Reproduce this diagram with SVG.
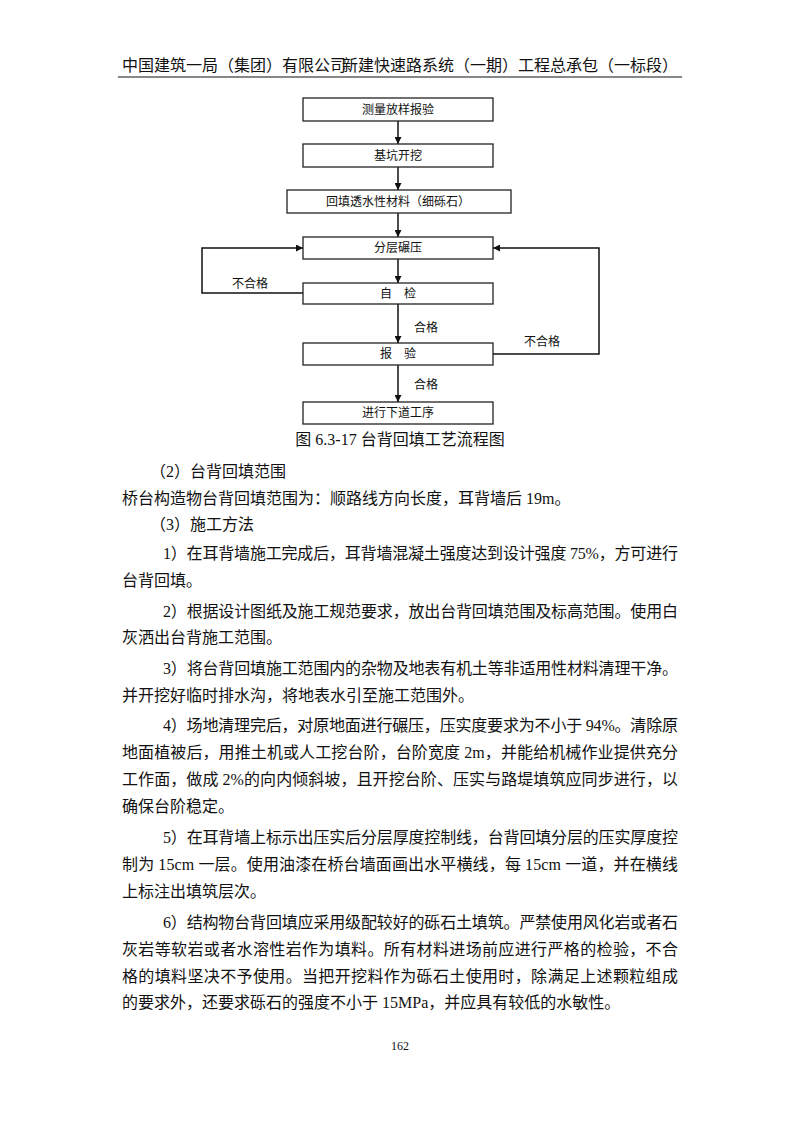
<svg xmlns="http://www.w3.org/2000/svg" width="800" height="1132" viewBox="0 0 800 1132">
<style>
.t{font-family:"Liberation Serif","Noto Sans CJK SC",serif;font-size:16px;fill:#111}
.b{fill:#fff;stroke:#222;stroke-width:1.3}
.n{font-family:"Noto Sans CJK SC",sans-serif;font-size:12px;fill:#111;text-anchor:middle}
.c{fill:none;stroke:#111;stroke-width:1.5}
</style>
<defs><marker id="a" viewBox="0 0 10 10" refX="10" refY="5" markerWidth="7" markerHeight="7" orient="auto" markerUnits="userSpaceOnUse"><path d="M0,0L10,5L0,10z" fill="#111"/></marker></defs>
<rect width="800" height="1132" fill="#fff"/>
<text class="t" x="122" y="71" font-size="15">中国建筑一局（集团）有限公司</text>
<text class="t" x="678" y="71" font-size="15" text-anchor="end">新建快速路系统（一期）工程总承包（一标段）</text>
<line x1="118" y1="77" x2="682" y2="77" stroke="#111" stroke-width="1.2"/>
<g id="connectors">
<line class="c" x1="398" y1="121" x2="398" y2="144" marker-end="url(#a)"/>
<line class="c" x1="398" y1="167" x2="398" y2="190" marker-end="url(#a)"/>
<line class="c" x1="398" y1="213" x2="398" y2="237" marker-end="url(#a)"/>
<line class="c" x1="398" y1="259" x2="398" y2="283" marker-end="url(#a)"/>
<line class="c" x1="398" y1="304" x2="398" y2="343" marker-end="url(#a)"/>
<line class="c" x1="398" y1="365" x2="398" y2="402" marker-end="url(#a)"/>
<polyline class="c" points="303,293 202,293 202,248 303,248" marker-end="url(#a)"/>
<polyline class="c" points="493,354 599,354 599,248 493,248" marker-end="url(#a)"/>
<text class="n" x="250" y="288">不合格</text>
<text class="n" x="426" y="332">合格</text>
<text class="n" x="542" y="346">不合格</text>
<text class="n" x="426" y="389">合格</text>
</g>
<g id="n1"><rect class="b" x="303" y="98" width="190" height="23"/><text class="n" x="398" y="114">测量放样报验</text></g>
<g id="n2"><rect class="b" x="303" y="144" width="190" height="23"/><text class="n" x="398" y="160">基坑开挖</text></g>
<g id="n3"><rect class="b" x="287" y="190" width="224" height="23"/><text class="n" x="398" y="206">回填透水性材料（细砾石）</text></g>
<g id="n4"><rect class="b" x="303" y="237" width="190" height="22"/><text class="n" x="398" y="252">分层碾压</text></g>
<g id="n5"><rect class="b" x="303" y="283" width="190" height="21"/><text class="n" x="398" y="298">自　检</text></g>
<g id="n6"><rect class="b" x="303" y="343" width="190" height="22"/><text class="n" x="398" y="358">报　验</text></g>
<g id="n7"><rect class="b" x="303" y="402" width="190" height="22"/><text class="n" x="398" y="417">进行下道工序</text></g>
<text class="t" x="400" y="445" font-size="14" text-anchor="middle">图 6.3-17 台背回填工艺流程图</text>
<g class="t">
<text x="150" y="477">（2）台背回填范围</text>
<text x="122" y="504">桥台构造物台背回填范围为：顺路线方向长度，耳背墙后 19m。</text>
<text x="150" y="530">（3）施工方法</text>
<text x="163" y="559" textLength="515" lengthAdjust="spacing">1）在耳背墙施工完成后，耳背墙混凝土强度达到设计强度 75%，方可进行</text>
<text x="122" y="586">台背回填。</text>
<text x="163" y="617" textLength="515" lengthAdjust="spacing">2）根据设计图纸及施工规范要求，放出台背回填范围及标高范围。使用白</text>
<text x="122" y="643">灰洒出台背施工范围。</text>
<text x="163" y="674" textLength="515" lengthAdjust="spacing">3）将台背回填施工范围内的杂物及地表有机土等非适用性材料清理干净。</text>
<text x="122" y="701">并开挖好临时排水沟，将地表水引至施工范围外。</text>
<text x="163" y="731" textLength="515" lengthAdjust="spacing">4）场地清理完后，对原地面进行碾压，压实度要求为不小于 94%。清除原</text>
<text x="122" y="758" textLength="556" lengthAdjust="spacing">地面植被后，用推土机或人工挖台阶，台阶宽度 2m，并能给机械作业提供充分</text>
<text x="122" y="785" textLength="556" lengthAdjust="spacing">工作面，做成 2%的向内倾斜坡，且开挖台阶、压实与路堤填筑应同步进行，以</text>
<text x="122" y="812">确保台阶稳定。</text>
<text x="163" y="843" textLength="515" lengthAdjust="spacing">5）在耳背墙上标示出压实后分层厚度控制线，台背回填分层的压实厚度控</text>
<text x="122" y="870" textLength="556" lengthAdjust="spacing">制为 15cm 一层。使用油漆在桥台墙面画出水平横线，每 15cm 一道，并在横线</text>
<text x="122" y="897">上标注出填筑层次。</text>
<text x="163" y="928" textLength="515" lengthAdjust="spacing">6）结构物台背回填应采用级配较好的砾石土填筑。严禁使用风化岩或者石</text>
<text x="122" y="955" textLength="556" lengthAdjust="spacing">灰岩等软岩或者水溶性岩作为填料。所有材料进场前应进行严格的检验，不合</text>
<text x="122" y="982" textLength="556" lengthAdjust="spacing">格的填料坚决不予使用。当把开挖料作为砾石土使用时，除满足上述颗粒组成</text>
<text x="122" y="1008">的要求外，还要求砾石的强度不小于 15MPa，并应具有较低的水敏性。</text>
<text x="400" y="1050" font-size="12" text-anchor="middle">162</text>
</g>
</svg>
